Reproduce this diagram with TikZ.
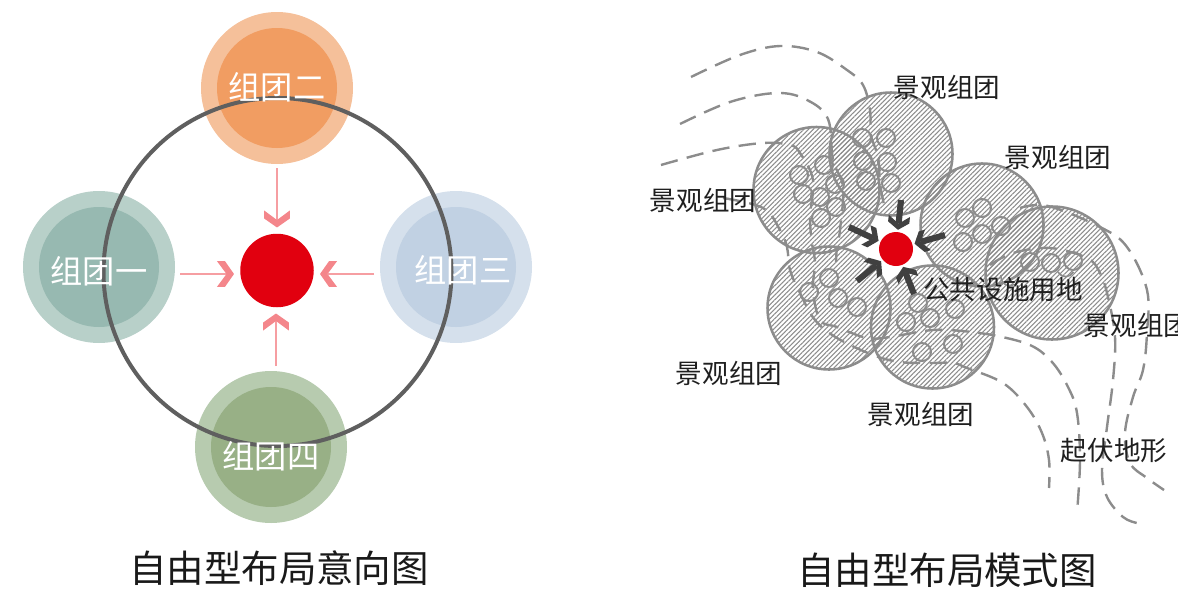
\documentclass[tikz,border=0pt]{standalone}
\usepackage{fontspec}
\setmainfont{Noto Sans CJK SC}
\usetikzlibrary{arrows.meta,patterns.meta}
\definecolor{ringgray}{HTML}{5F5F5F}
\definecolor{hatchgray}{HTML}{8C8C8C}
\definecolor{mainred}{HTML}{E1000F}
\definecolor{pink}{HTML}{F4868B}
\definecolor{darkarrow}{HTML}{404040}
\pgfdeclarearrow{
  name=Chev,
  defaults={length=12pt,width=18pt},
  setup code={
    \pgfarrowssettipend{0pt}
    \pgfarrowssetlineend{-0.44\pgfarrowlength}
    \pgfarrowssetvisualbackend{-\pgfarrowlength}
    \pgfarrowssavethe\pgfarrowlength
    \pgfarrowssavethe\pgfarrowwidth
  },
  drawing code={
    \pgfsetlinewidth{0pt}
    \pgfpathmoveto{\pgfqpoint{0pt}{0pt}}
    \pgfpathlineto{\pgfqpoint{-0.53\pgfarrowlength}{0.5\pgfarrowwidth}}
    \pgfpathlineto{\pgfqpoint{-\pgfarrowlength}{0.5\pgfarrowwidth}}
    \pgfpathlineto{\pgfqpoint{-0.44\pgfarrowlength}{0pt}}
    \pgfpathlineto{\pgfqpoint{-\pgfarrowlength}{-0.5\pgfarrowwidth}}
    \pgfpathlineto{\pgfqpoint{-0.53\pgfarrowlength}{-0.5\pgfarrowwidth}}
    \pgfpathclose
    \pgfusepathqfill
  },
  parameters={\the\pgfarrowlength,\the\pgfarrowwidth}
}
\tikzset{
  disc/.style={circle,inner sep=0pt,minimum size=#1*0.75pt},
  group/.style={font=\fontsize{24.2}{24}\selectfont,text=white,inner sep=0pt},
  label/.style={font=\fontsize{19.9}{20}\selectfont,text=black!88,inner sep=0pt},
  headline/.style={font=\fontsize{28.1}{28}\selectfont,text=black!90,inner sep=0pt},
  hatched/.style={disc=#1,draw=hatchgray,line width=1.9pt,
    pattern={Lines[angle=45,distance=2.5pt,line width=0.8pt]},pattern color=hatchgray},
  seed/.style={disc=18,draw=hatchgray,line width=1.5pt},
  pinkarrow/.style={draw=pink!80,line width=1.2pt,
    -{Chev[length=12.75pt,width=19.3pt,color=pink]},shorten >=4.5pt},
  darkarrowline/.style={draw=darkarrow,line width=4.6pt,
    -{Chev[length=10.5pt,width=16pt,color=darkarrow]},shorten >=1.5pt},
  contour/.style={draw=hatchgray,line width=1.8pt,dash pattern=on 13pt off 7pt,smooth,tension=0.6},
}
\begin{document}
\begin{tikzpicture}[x=0.75pt,y=-0.75pt]
\useasboundingbox (0,0) rectangle (1178,589);
% left diagram
\node[disc=152,fill={rgb,255:red,184;green,208;blue,201}] (o1) at (99,267) {};
\node[disc=120,fill={rgb,255:red,151;green,185;blue,177}] (i1) at (99,267) {};
\node[disc=152,fill={rgb,255:red,245;green,192;blue,154}] (o2) at (277,88) {};
\node[disc=120,fill={rgb,255:red,241;green,157;blue,98}] (i2) at (277,88) {};
\node[disc=152,fill={rgb,255:red,213;green,224;blue,236}] (o3) at (456,267) {};
\node[disc=120,fill={rgb,255:red,193;green,209;blue,227}] (i3) at (456,267) {};
\node[disc=152,fill={rgb,255:red,183;green,203;blue,175}] (o4) at (271,447) {};
\node[disc=120,fill={rgb,255:red,152;green,176;blue,134}] (i4) at (271,447) {};
\node[disc=348,draw=ringgray,line width=3pt] (ring) at (277.5,272) {};
\node[disc=73.5,fill=mainred] (red) at (277,270.5) {};
\coordinate (sa) at (180,274);
\coordinate (sb) at (277,168);
\coordinate (sc) at (374,274);
\coordinate (sd) at (276,366);
\draw[pinkarrow] (sa) -- (sa -| red.west);
\draw[pinkarrow] (sb) -- (sb |- red.north);
\draw[pinkarrow] (sc) -- (sc -| red.east);
\draw[pinkarrow] (sd) -- (sd |- red.south);
\node[group] (t1) at (99,271) {组团一};
\node[group] (t2) at (277,87) {组团二};
\node[group] (t3) at (463,270) {组团三};
\node[group] (t4) at (271,456) {组团四};
\node[headline] (h1) at (279,568) {自由型布局意向图};
% right diagram: hatched clusters
\node[hatched=126] (ca) at (816.5,190) {};
\node[hatched=123] (cb) at (891,154) {};
\node[hatched=123] (cc) at (982,225) {};
\node[hatched=133] (cd) at (1052,273) {};
\node[hatched=123] (ce) at (829,308) {};
\node[hatched=123] (cf) at (932.5,327) {};
% seeds
\foreach \x/\y in {799/175,824/165,803/194,835/184,820/197,836/207,821/218,
  862/138,886/138,863/161,887/162,866/181,891/183,
  982/208,965/218,1001/226,982/234,963/242,
  1030/262,1051/263,1073/261,
  829/278,809/292,838/298,857/307,
  918/303,955/309,930/318,906/322,953/344,922/352}
  \node[seed] at (\x,\y) {};
\draw[hatchgray,line width=1.2pt] (1001,275) arc[start angle=190,end angle=60,radius=9];
\draw[hatchgray,line width=1.2pt] (1058,272) arc[start angle=150,end angle=30,radius=9];
% contours
\draw[contour] plot coordinates {(691,77) (740,55) (780,46) (817,52) (847,70) (863,85) (870,110) (871,135) (878,157) (880,183) (884,205)};
\draw[contour] plot coordinates {(680,124) (730,102) (777,93) (807,100) (828,119) (833,160) (843,187) (840,230) (837,247) (836,262)};
\draw[contour] plot coordinates {(661,165) (717,150) (763,143) (790,145) (800,153) (813,180) (810,217) (812,243) (815,263) (813,290) (820,320) (837,327) (867,338) (890,337) (933,330) (973,332) (993,335) (1030,345) (1052,362) (1068,387) (1077,413) (1080,460) (1077,513)};
\draw[contour] plot coordinates {(723,198) (763,208) (780,230) (787,247) (790,270) (800,293) (815,320) (837,338) (873,355) (900,362) (930,363) (953,363) (967,368) (1003,383) (1027,407) (1042,433) (1049,460) (1049,488)};
\draw[contour] plot coordinates {(990,265) (1013,253) (1050,248) (1087,258) (1100,273) (1108,297) (1115,337) (1113,380) (1107,427) (1102,470) (1107,497) (1123,517) (1137,523)};
\draw[contour] plot coordinates {(1020,208) (1048,206) (1100,227) (1127,247) (1147,290) (1147,333) (1143,370) (1133,397) (1125,433) (1130,463) (1147,478) (1164,490)};
% centre
\node[disc=34,fill=mainred] (hub) at (896,249) {};
\coordinate (aa) at (849,227);
\coordinate (ab) at (901,200);
\coordinate (ac) at (945,235);
\coordinate (ad) at (857,281);
\coordinate (ae) at (914,294);
\draw[darkarrowline] (aa) -- (hub);
\draw[darkarrowline] (ab) -- (hub);
\draw[darkarrowline] (ac) -- (hub);
\draw[darkarrowline] (ad) -- (hub);
\draw[darkarrowline] (ae) -- (hub);
% labels
\node[label] (l1) at (947,87) {景观组团};
\node[label] (l2) at (1058,157) {景观组团};
\node[label] (l3) at (703,200) {景观组团};
\node[label] (l4) at (1137,325) {景观组团};
\node[label] (l5) at (729,373) {景观组团};
\node[label] (l6) at (921,414) {景观组团};
\node[label] (l7) at (1003,289) {公共设施用地};
\node[label] (l8) at (1114,451) {起伏地形};
\node[headline] (h2) at (947,570) {自由型布局模式图};
\end{tikzpicture}
\end{document}
